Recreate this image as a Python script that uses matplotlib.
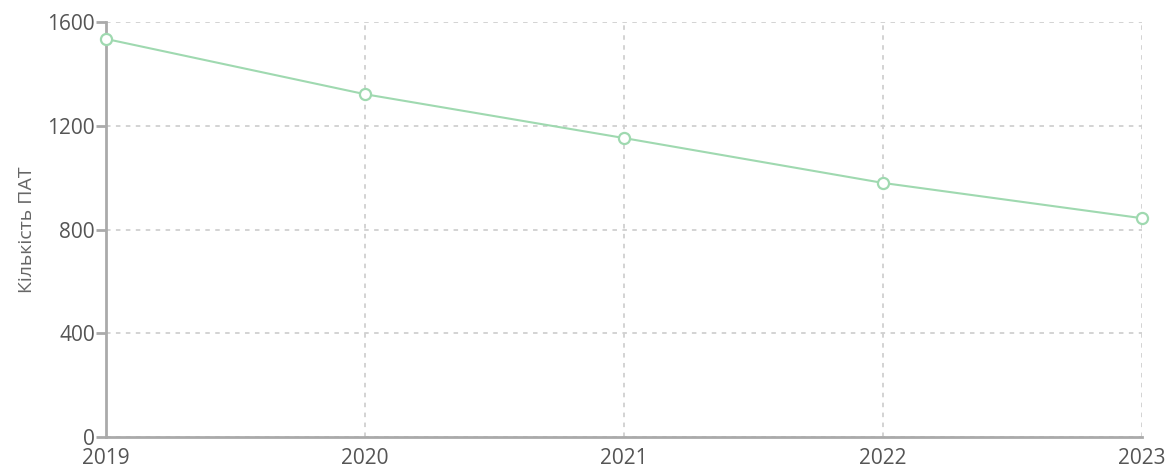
import numpy as np
import matplotlib.pyplot as plt

plt.rcParams['font.family'] = ['Open Sans', 'DejaVu Sans']

years = [2019, 2020, 2021, 2022, 2023]
counts = [1535, 1322, 1153, 980, 844]
y_ticks = [0, 400, 800, 1200, 1600]

fig = plt.figure(figsize=(11.69, 4.70), dpi=100)
ax = fig.add_axes([0.0907, 0.07, 0.886, 0.883])

ax.plot(years, counts, color='#9fd9b0', linewidth=1.5, marker='o', markersize=8,
        markerfacecolor='white', markeredgecolor='#9fd9b0', markeredgewidth=1.6, zorder=3,
        clip_on=False)

ax.set_xlim(2019, 2023)
ax.set_ylim(0, 1600)
ax.set_xticks(years)
ax.set_yticks(y_ticks)

ax.grid(True, color='#d0d0d0', linestyle=(0, (2.5, 3)), linewidth=1.3)
for s in ['top', 'right']:
    ax.spines[s].set_visible(False)
for s in ['left', 'bottom']:
    ax.spines[s].set_color('#aaaaaa')
    ax.spines[s].set_linewidth(2)

# "0" sits a bit higher so it does not collide with the first year label
ax.tick_params(axis='y', length=7, width=2, color='#aaaaaa', labelcolor='#555555',
               labelsize=15, pad=1)
ax.tick_params(axis='x', length=0, labelcolor='#555555', labelsize=15, pad=8)
ax.set_ylabel('Кількість ПАТ', color='#666666', fontsize=14, labelpad=8)

fig.savefig('out.png', dpi=100)
